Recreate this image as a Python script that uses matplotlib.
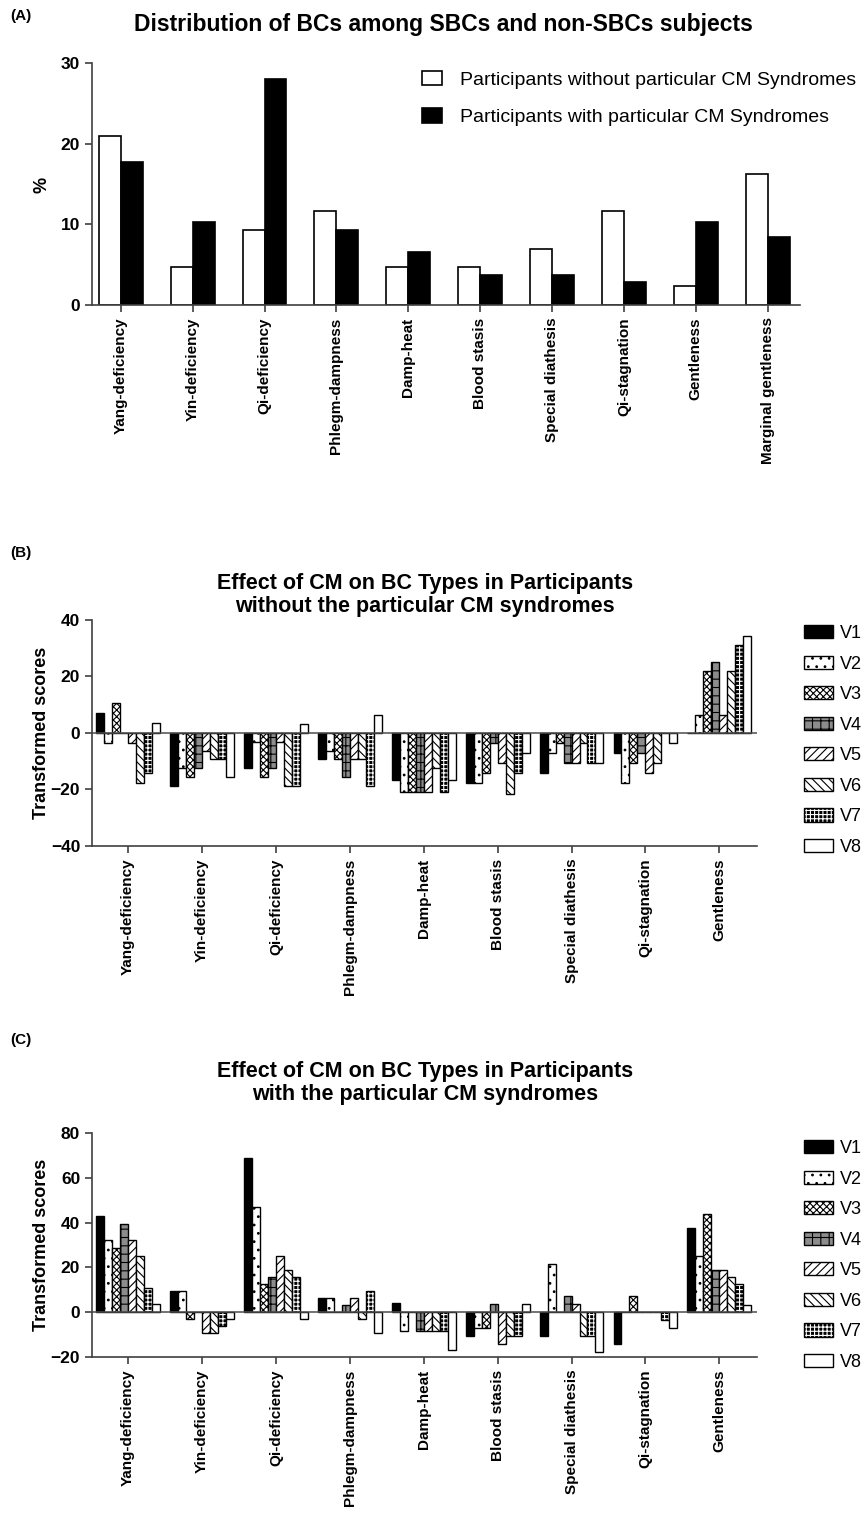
import numpy as np
import matplotlib
matplotlib.use("Agg")
import matplotlib.pyplot as plt
from matplotlib.patches import Patch
from matplotlib.legend_handler import HandlerTuple

plt.rcParams['font.family'] = ['Liberation Sans', 'DejaVu Sans']
plt.rcParams['font.weight'] = 'bold'
plt.rcParams['hatch.linewidth'] = 0.8

# ---- data ----
bc_types_a = ["Yang-deficiency", "Yin-deficiency", "Qi-deficiency", "Phlegm-dampness",
              "Damp-heat", "Blood stasis", "Special diathesis", "Qi-stagnation",
              "Gentleness", "Marginal gentleness"]
pct_without = [20.93, 4.65, 9.30, 11.63, 4.65, 4.65, 6.98, 11.63, 2.33, 16.28]
pct_with = [17.76, 10.28, 28.04, 9.35, 6.54, 3.74, 3.74, 2.80, 10.28, 8.41]

bc_types = bc_types_a[:9]
visits = ["V1", "V2", "V3", "V4", "V5", "V6", "V7", "V8"]

# transformed scores, one row per BC type, one column per visit
scores_without = [
    [7.14, -3.57, 10.71, 0, -3.57, -17.86, -14.29, 3.57],            # Yang-deficiency
    [-18.75, -12.5, -15.63, -12.5, -6.25, -9.38, -9.38, -15.63],     # Yin-deficiency
    [-12.5, -3.13, -15.63, -12.5, -3.13, -18.75, -18.75, 3.13],      # Qi-deficiency
    [-9.38, -6.25, -9.38, -15.63, -9.38, -9.38, -18.75, 6.25],       # Phlegm-dampness
    [-16.67, -20.83, -20.83, -20.83, -20.83, -12.5, -20.83, -16.67], # Damp-heat
    [-17.86, -17.86, -14.29, -3.57, -10.71, -21.43, -14.29, -7.14],  # Blood stasis
    [-14.29, -7.14, -3.57, -10.71, -10.71, -3.57, -10.71, -10.71],   # Special diathesis
    [-7.14, -17.86, -10.71, -7.14, -14.29, -10.71, 0, -3.57],        # Qi-stagnation
    [0, 6.25, 21.88, 25.0, 6.25, 21.88, 31.25, 34.38],               # Gentleness
]
scores_with = [
    [42.86, 32.14, 28.57, 39.29, 32.14, 25.0, 10.71, 3.57],
    [9.38, 9.38, -3.13, 0, -9.38, -9.38, -6.25, -3.13],
    [68.75, 46.88, 12.5, 15.63, 25.0, 18.75, 15.63, -3.13],
    [6.25, 6.25, 0, 3.13, 6.25, -3.13, 9.38, -9.38],
    [4.17, -8.33, 0, -8.33, -8.33, -8.33, -8.33, -16.67],
    [-10.71, -7.14, -7.14, 3.57, -14.29, -10.71, -10.71, 3.57],
    [-10.71, 21.43, 0, 7.14, 3.57, -10.71, -10.71, -17.86],
    [-14.29, 0, 7.14, 0, 0, 0, -3.57, -7.14],
    [37.5, 25.0, 43.75, 18.75, 18.75, 15.63, 12.5, 3.13],
]

# fill colour, hatch colour, hatch pattern for each visit
visit_styles = [
    ("black", "black", None),
    ("white", "black", ".."),
    ("white", "black", "xxxxx"),
    ("0.55", "black", "++"),
    ("white", "black", "////"),
    ("white", "black", "\\\\\\\\"),
    ("black", "white", "++++"),
    ("white", "black", None),
]

W, H = 865, 1521
fig = plt.figure(figsize=(W / 100, H / 100), dpi=100)


def frac_box(left, top, right, bottom):
    return [left / W, 1 - bottom / H, (right - left) / W, (bottom - top) / H]


def style_axes(ax):
    for side in ("top", "right"):
        ax.spines[side].set_visible(False)
    for side in ("left", "bottom"):
        ax.spines[side].set_linewidth(1.2)
        ax.spines[side].set_color("0.25")
    ax.tick_params(axis="both", width=1.2, length=5, color="0.25", labelsize=12.5)
    ax.tick_params(axis="x", labelsize=11, pad=4)


# ---- (A) ----
axA = fig.add_axes(frac_box(92, 63, 800, 305))
x = np.arange(len(bc_types_a))
bw = 0.305
axA.bar(x - bw / 2, pct_without, bw, color="white", edgecolor="black", linewidth=1.2,
        label="Participants without particular CM Syndromes")
axA.bar(x + bw / 2, pct_with, bw, color="black", edgecolor="black", linewidth=1.2,
        label="Participants with particular CM Syndromes")
axA.set_xlim(-0.4, 9.45)
axA.set_ylim(0, 30)
axA.set_yticks([0, 10, 20, 30])
axA.set_xticks(x)
axA.set_xticklabels(bc_types_a, rotation=90)
style_axes(axA)
fig.legend(loc="upper left", bbox_to_anchor=(422 / W, 1 - 71 / H), frameon=False,
           prop={"size": 14, "weight": "normal"}, handlelength=1.05,
           handleheight=0.75, labelspacing=1.0, handletextpad=0.9,
           borderaxespad=0, borderpad=0)

fig.text(10 / W, 1 - 16 / H, "(A)", fontsize=11, va="center")
fig.text(443 / W, 1 - 25 / H, "Distribution of BCs among SBCs and non-SBCs subjects",
         fontsize=16.5, ha="center", va="center")
fig.text(42 / W, 1 - 185 / H, "%", fontsize=13, rotation=90, ha="center", va="center")


# ---- (B) and (C) ----
def score_panel(box, scores, ylim, yticks, leg_top):
    ax = fig.add_axes(box)
    xs = np.arange(len(bc_types))
    w = 0.108
    data = np.array(scores)
    handles = []
    for j, (face, hcol, hatch) in enumerate(visit_styles):
        pos = xs + (j - 3.5) * w
        ax.bar(pos, data[:, j], w, color=face, edgecolor=hcol, hatch=hatch, linewidth=0)
        ax.bar(pos, data[:, j], w, fill=False, edgecolor="black", linewidth=1.0)
        handles.append((Patch(facecolor=face, edgecolor=hcol, hatch=hatch, linewidth=0),
                        Patch(fill=False, edgecolor="black", linewidth=1.0)))
    ax.axhline(0, color="0.3", linewidth=1.1)
    ax.set_xlim(-0.49, 8.51)
    ax.set_ylim(*ylim)
    ax.set_yticks(yticks)
    ax.set_xticks(xs)
    ax.set_xticklabels(bc_types, rotation=90)
    style_axes(ax)
    fig.legend(handles, visits, loc="upper left", bbox_to_anchor=(804 / W, 1 - leg_top / H),
               frameon=False, prop={"size": 13, "weight": "normal"},
               handler_map={tuple: HandlerTuple(ndivide=1)},
               handlelength=1.6, handleheight=0.75, labelspacing=0.75, handletextpad=0.4,
               borderaxespad=0, borderpad=0)
    return ax


score_panel(frac_box(92, 620, 757, 846), scores_without, (-40, 40), [-40, -20, 0, 20, 40], 625)
fig.text(10 / W, 1 - 553 / H, "(B)", fontsize=11, va="center")
fig.text(425 / W, 1 - 595 / H,
         "Effect of CM on BC Types in Participants\nwithout the particular CM syndromes",
         fontsize=15.5, ha="center", va="center", linespacing=1.15)
fig.text(42 / W, 1 - 733 / H, "Transformed scores", fontsize=13, rotation=90,
         ha="center", va="center")

score_panel(frac_box(92, 1133, 757, 1357), scores_with, (-20, 80), [-20, 0, 20, 40, 60, 80], 1140)
fig.text(10 / W, 1 - 1040 / H, "(C)", fontsize=11, va="center")
fig.text(425 / W, 1 - 1083 / H,
         "Effect of CM on BC Types in Participants\nwith the particular CM syndromes",
         fontsize=15.5, ha="center", va="center", linespacing=1.15)
fig.text(42 / W, 1 - 1245 / H, "Transformed scores", fontsize=13, rotation=90,
         ha="center", va="center")

fig.savefig("out.png", dpi=100, facecolor="white")
